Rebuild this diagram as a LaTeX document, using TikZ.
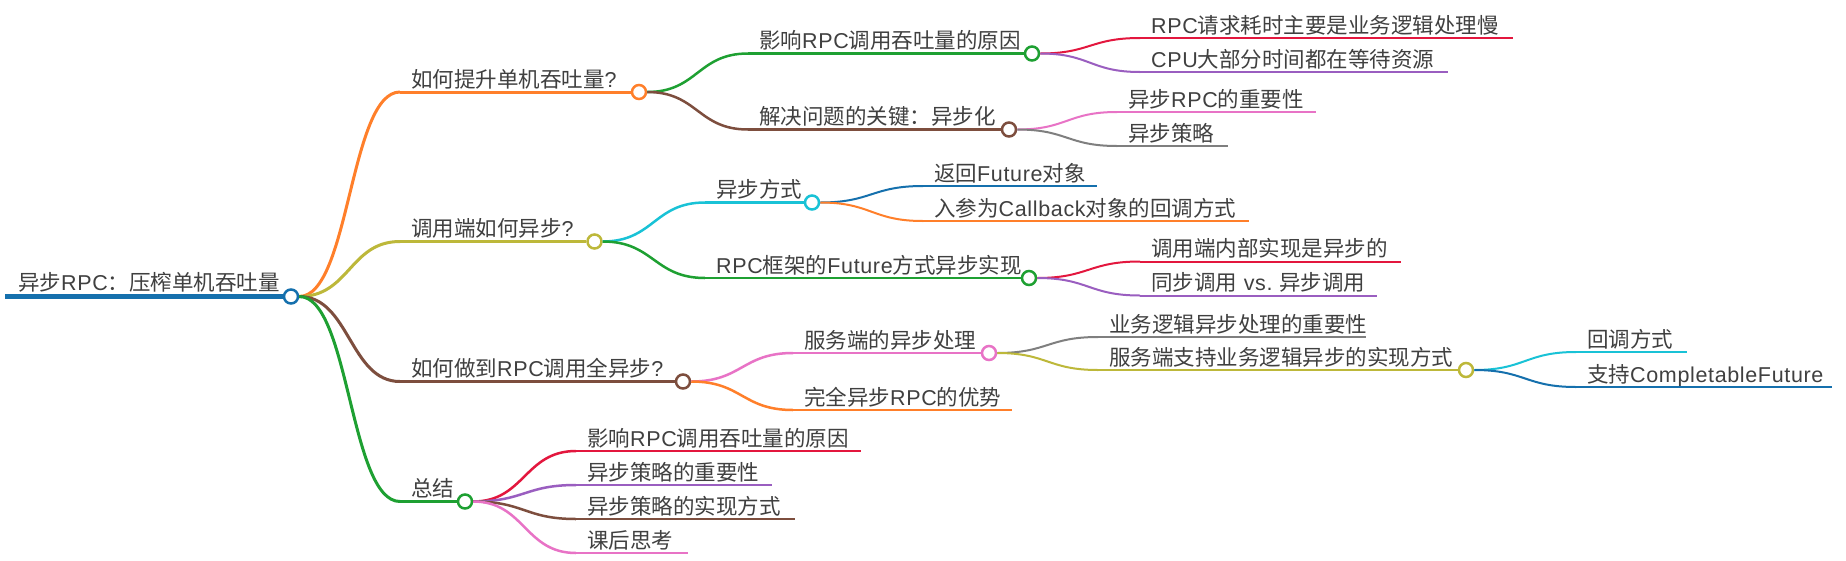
\documentclass[tikz,border=0pt]{standalone}
\usepackage{fontspec}
\setmainfont{Noto Sans CJK SC}
\newfontfamily\lat[LetterSpace=3]{Liberation Sans}
\usetikzlibrary{calc}
\definecolor{cblue}{HTML}{1570AD}
\definecolor{corange}{HTML}{FF7F2A}
\definecolor{colive}{HTML}{BDB83A}
\definecolor{cbrown}{HTML}{7D4E3E}
\definecolor{cgreen}{HTML}{1EA032}
\definecolor{cred}{HTML}{E3173E}
\definecolor{cpurple}{HTML}{9A5EC0}
\definecolor{cpink}{HTML}{E873C6}
\definecolor{cgray}{HTML}{7F7F7F}
\definecolor{ccyan}{HTML}{19C2D6}
\definecolor{txtgray}{HTML}{404040}
\tikzset{
  txt/.style={anchor=base west, inner sep=0pt, text=txtgray, font=\fontsize{21.5}{21.5}\selectfont},
  dot/.style={circle, fill=white, minimum size=14pt, inner sep=0pt, line width=2.5pt},
  mm/.style={to path={let \p1=(\tikztostart), \p2=(\tikztotarget) in
     .. controls ({0.5*\x1+0.5*\x2},\y1) and ({0.5*\x1+0.5*\x2},\y2) .. (\tikztotarget)}},
  wA/.style={line width=5pt},
  wB/.style={line width=3pt},
  wC/.style={line width=2.5pt},
  wD/.style={line width=2pt},
}
\begin{document}
\begin{tikzpicture}[x=1pt,y=-1pt]
\fill[white] (0,0) rectangle (1846,560);
\useasboundingbox (0,0) rectangle (1846,560);

% ---------- root ----------
\coordinate (R-s) at (5,296.5);
\node[dot,draw=cblue] (R-c) at (291,296.5) {};
\node[txt] (R) at (18,290.5) {异步{\lat RPC}：压榨单机吞吐量};
\draw[cblue,wA] (R-s) -- (R-c.west);

% ---------- level 1 ----------
\coordinate (A-s) at (400,92);
\node[dot,draw=corange] (A-c) at (639,92) {};
\node[txt] (A) at (411,87) {如何提升单机吞吐量{\lat ?}};
\draw[corange,wB] (A-s) -- (A-c.west);
\draw[corange,wB] (R-c.east) to[mm] (A-s);

\coordinate (B-s) at (400,241.5);
\node[dot,draw=colive] (B-c) at (594.5,241.5) {};
\node[txt] (B) at (411,236.5) {调用端如何异步{\lat ?}};
\draw[colive,wB] (B-s) -- (B-c.west);
\draw[colive,wB] (R-c.east) to[mm] (B-s);

\coordinate (C-s) at (400,381.5);
\node[dot,draw=cbrown] (C-c) at (683,381.5) {};
\node[txt] (C) at (411,376.5) {如何做到{\lat RPC}调用全异步{\lat ?}};
\draw[cbrown,wB] (C-s) -- (C-c.west);
\draw[cbrown,wB] (R-c.east) to[mm] (C-s);

\coordinate (D-s) at (400,501.5);
\node[dot,draw=cgreen] (D-c) at (465,501.5) {};
\node[txt] (D) at (411,496.5) {总结};
\draw[cgreen,wB] (D-s) -- (D-c.west);
\draw[cgreen,wB] (R-c.east) to[mm] (D-s);

% ---------- under A ----------
\coordinate (A1-s) at (748,53.5);
\node[dot,draw=cgreen] (A1-c) at (1032,53.5) {};
\node[txt] (A1) at (759,48.5) {影响{\lat RPC}调用吞吐量的原因};
\draw[cgreen,wC] (A1-s) -- (A1-c.west);
\draw[cgreen,wC] (A-c.east) to[mm] (A1-s);

\coordinate (A2-s) at (748,129.5);
\node[dot,draw=cbrown] (A2-c) at (1009,129.5) {};
\node[txt] (A2) at (759,124.5) {解决问题的关键：异步化};
\draw[cbrown,wC] (A2-s) -- (A2-c.west);
\draw[cbrown,wC] (A-c.east) to[mm] (A2-s);

\coordinate (A1a-s) at (1140,38);
\coordinate (A1a-e) at (1513,38);
\node[txt] (A1a) at (1151,33) {{\lat RPC}请求耗时主要是业务逻辑处理慢};
\draw[cred,wD] (A1a-s) -- (A1a-e);
\draw[cred,wD] (A1-c.east) to[mm] (A1a-s);

\coordinate (A1b-s) at (1140,72);
\coordinate (A1b-e) at (1448,72);
\node[txt] (A1b) at (1151,67) {{\lat CPU}大部分时间都在等待资源};
\draw[cpurple,wD] (A1b-s) -- (A1b-e);
\draw[cpurple,wD] (A1-c.east) to[mm] (A1b-s);

\coordinate (A2a-s) at (1117,112);
\coordinate (A2a-e) at (1316,112);
\node[txt] (A2a) at (1128,107) {异步{\lat RPC}的重要性};
\draw[cpink,wD] (A2a-s) -- (A2a-e);
\draw[cpink,wD] (A2-c.east) to[mm] (A2a-s);

\coordinate (A2b-s) at (1117,146);
\coordinate (A2b-e) at (1228,146);
\node[txt] (A2b) at (1128,141) {异步策略};
\draw[cgray,wD] (A2b-s) -- (A2b-e);
\draw[cgray,wD] (A2-c.east) to[mm] (A2b-s);

% ---------- under B ----------
\coordinate (B1-s) at (705,202.5);
\node[dot,draw=ccyan] (B1-c) at (812,202.5) {};
\node[txt] (B1) at (716,197.5) {异步方式};
\draw[ccyan,wC] (B1-s) -- (B1-c.west);
\draw[ccyan,wC] (B-c.east) to[mm] (B1-s);

\coordinate (B2-s) at (705,278);
\node[dot,draw=cgreen] (B2-c) at (1029,278) {};
\node[txt] (B2) at (716,273) {{\lat RPC}框架的{\lat Future}方式异步实现};
\draw[cgreen,wC] (B2-s) -- (B2-c.west);
\draw[cgreen,wC] (B-c.east) to[mm] (B2-s);

\coordinate (B1a-s) at (923,186);
\coordinate (B1a-e) at (1097,186);
\node[txt] (B1a) at (934,181) {返回{\lat Future}对象};
\draw[cblue,wD] (B1a-s) -- (B1a-e);
\draw[cblue,wD] (B1-c.east) to[mm] (B1a-s);

\coordinate (B1b-s) at (923,221);
\coordinate (B1b-e) at (1249,221);
\node[txt] (B1b) at (934,216) {入参为{\lat Callback}对象的回调方式};
\draw[corange,wD] (B1b-s) -- (B1b-e);
\draw[corange,wD] (B1-c.east) to[mm] (B1b-s);

\coordinate (B2a-s) at (1140,261.5);
\coordinate (B2a-e) at (1401,261.5);
\node[txt] (B2a) at (1151,256.5) {调用端内部实现是异步的};
\draw[cred,wD] (B2a-s) -- (B2a-e);
\draw[cred,wD] (B2-c.east) to[mm] (B2a-s);

\coordinate (B2b-s) at (1140,295.5);
\coordinate (B2b-e) at (1377,295.5);
\node[txt] (B2b) at (1151,290.5) {同步调用{\lat\ vs.\ }异步调用};
\draw[cpurple,wD] (B2b-s) -- (B2b-e);
\draw[cpurple,wD] (B2-c.east) to[mm] (B2b-s);

% ---------- under C ----------
\coordinate (C1-s) at (793,353);
\node[dot,draw=cpink] (C1-c) at (989,353) {};
\node[txt] (C1) at (804,348) {服务端的异步处理};
\draw[cpink,wC] (C1-s) -- (C1-c.west);
\draw[cpink,wC] (C-c.east) to[mm] (C1-s);

\coordinate (C2-s) at (793,410);
\coordinate (C2-e) at (1012,410);
\node[txt] (C2) at (804,405) {完全异步{\lat RPC}的优势};
\draw[corange,wC] (C2-s) -- (C2-e);
\draw[corange,wC] (C-c.east) to[mm] (C2-s);

\coordinate (C1a-s) at (1098,337);
\coordinate (C1a-e) at (1366,337);
\node[txt] (C1a) at (1109,332) {业务逻辑异步处理的重要性};
\draw[cgray,wD] (C1a-s) -- (C1a-e);
\draw[cgray,wD] (C1-c.east) to[mm] (C1a-s);

\coordinate (C1b-s) at (1098,370);
\node[dot,draw=colive] (C1b-c) at (1466,370) {};
\node[txt] (C1b) at (1109,365) {服务端支持业务逻辑异步的实现方式};
\draw[colive,wD] (C1b-s) -- (C1b-c.west);
\draw[colive,wD] (C1-c.east) to[mm] (C1b-s);

\coordinate (C1b1-s) at (1576,352);
\coordinate (C1b1-e) at (1687,352);
\node[txt] (C1b1) at (1587,347) {回调方式};
\draw[ccyan,wD] (C1b1-s) -- (C1b1-e);
\draw[ccyan,wD] (C1b-c.east) to[mm] (C1b1-s);

\coordinate (C1b2-s) at (1576,387);
\coordinate (C1b2-e) at (1832,387);
\node[txt] (C1b2) at (1587,382) {支持{\lat CompletableFuture}};
\draw[cblue,wD] (C1b2-s) -- (C1b2-e);
\draw[cblue,wD] (C1b-c.east) to[mm] (C1b2-s);

% ---------- under D ----------
\coordinate (D1-s) at (576,451);
\coordinate (D1-e) at (861,451);
\node[txt] (D1) at (587,446) {影响{\lat RPC}调用吞吐量的原因};
\draw[cred,wC] (D1-s) -- (D1-e);
\draw[cred,wC] (D-c.east) to[mm] (D1-s);

\coordinate (D2-s) at (576,485);
\coordinate (D2-e) at (772,485);
\node[txt] (D2) at (587,480) {异步策略的重要性};
\draw[cpurple,wC] (D2-s) -- (D2-e);
\draw[cpurple,wC] (D-c.east) to[mm] (D2-s);

\coordinate (D3-s) at (576,519);
\coordinate (D3-e) at (795,519);
\node[txt] (D3) at (587,514) {异步策略的实现方式};
\draw[cbrown,wC] (D3-s) -- (D3-e);
\draw[cbrown,wC] (D-c.east) to[mm] (D3-s);

\coordinate (D4-s) at (576,553);
\coordinate (D4-e) at (688,553);
\node[txt] (D4) at (587,548) {课后思考};
\draw[cpink,wC] (D4-s) -- (D4-e);
\draw[cpink,wC] (D-c.east) to[mm] (D4-s);
\end{tikzpicture}
\end{document}
